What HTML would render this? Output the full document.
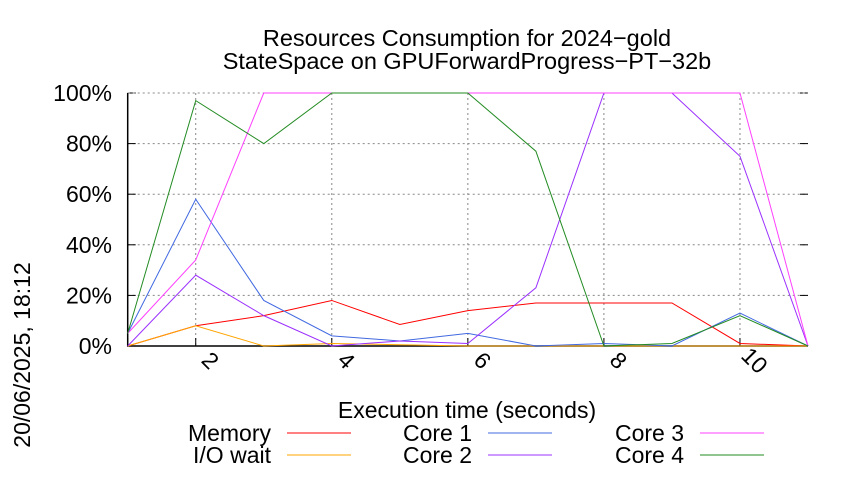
<!DOCTYPE html>
<html><head><meta charset="utf-8"><style>
body{margin:0;background:#fff;}
svg{font-family:"Liberation Sans",sans-serif;}
</style></head><body>
<svg id="chart" width="850" height="475" xmlns="http://www.w3.org/2000/svg">
<text x="467" y="46" font-size="23.5" text-anchor="middle">Resources Consumption for 2024−gold</text>
<text x="467" y="69" font-size="23.5" text-anchor="middle">StateSpace on GPUForwardProgress−PT−32b</text>
<text transform="translate(30,355) rotate(-90)" font-size="23" text-anchor="middle">20/06/2025, 18:12</text>
<text x="467" y="418" font-size="23" text-anchor="middle">Execution time (seconds)</text>
<g id="grid"></g><g id="series"></g><g id="legend"></g>
</svg>
<script>
const xs=[1,2,3,4,5,6,7,8,9,10,11];
const memory=[0,8,12,18,8.5,14,17,17,17,1,0];
const iowait=[0,8,0,1,0.5,0,0,0,0,0,0];
const core1=[5,58,18,4,2,5,0,1,0,13,0];
const core2=[0,28,12,0,2,1,23,100,100,75,0];
const core3=[5,34,100,100,100,100,100,100,100,100,0];
const core4=[5,97,80,100,100,100,77,0,1,12,0];
const yTicks=[0,20,40,60,80,100];
const xTicks=[2,4,6,8,10];
const L=127.7,R=808,T=93,B=346;
const X=v=>L+(v-1)*(R-L)/10, Y=v=>B-v*(B-T)/100;
const NS="http://www.w3.org/2000/svg";
const g=document.getElementById('grid'),s=document.getElementById('series'),lg=document.getElementById('legend');
function mk(t,a,p){const e=document.createElementNS(NS,t);for(const k in a)e.setAttribute(k,a[k]);p.appendChild(e);return e;}
yTicks.forEach(v=>{
 if(v>0&&v<100){const l=mk('line',{x1:L,x2:R,y1:Y(v),y2:Y(v),stroke:'#888','stroke-dasharray':'2,3'},g);
 
 }
 const t=mk('text',{x:112,y:Y(v)+8,'font-size':23,'text-anchor':'end'},g);t.textContent=v+'%';
 
 
 mk('line',{x1:L,x2:L+8,y1:Y(v),y2:Y(v),stroke:'#000'},g);mk('line',{x1:R-8,x2:R,y1:Y(v),y2:Y(v),stroke:'#000'},g);
});
mk('line',{x1:L,x2:R,y1:T,y2:T,stroke:'#888','stroke-dasharray':'2,3'},g);
xTicks.forEach(v=>{
 const l=mk('line',{x1:X(v),x2:X(v),y1:T,y2:B,stroke:'#888','stroke-dasharray':'2,3'},g);
 
 
 mk('line',{x1:X(v),x2:X(v),y1:B-8,y2:B,stroke:'#000'},g);
 const t=mk('text',{transform:`translate(${X(v)+9},${B+20}) rotate(45)`,'font-size':23,'text-anchor':'middle'},g);t.textContent=v;
 
 
});
const ax=mk('path',{d:`M${L},${T}V${B}H${R}`,fill:'none',stroke:'#000','stroke-width':1.5},g);


const series=[['Memory',memory,'#ff0000'],['I/O wait',iowait,'#ffa500'],['Core 1',core1,'#4169e1'],['Core 2',core2,'#9b30ff'],['Core 3',core3,'#ff40ff'],['Core 4',core4,'#228b22']];
const lpos=[[271,287,433],[271,287,455],[472,488,433],[472,488,455],[684,700,433],[684,700,455]];
series.forEach((sr,i)=>{
 const p=mk('polyline',{points:xs.map((x,j)=>X(x)+','+Y(sr[1][j])).join(' '),fill:'none',stroke:sr[2],'stroke-width':1},s);
 
 
 const [tx,lx,ly]=lpos[i];
 const t=mk('text',{x:tx,y:ly+8,'font-size':23,'text-anchor':'end'},lg);t.textContent=sr[0];
 
 
 const l=mk('line',{x1:lx,x2:lx+64,y1:ly,y2:ly,stroke:sr[2]},lg);
 
 
});
</script>
</body></html>
